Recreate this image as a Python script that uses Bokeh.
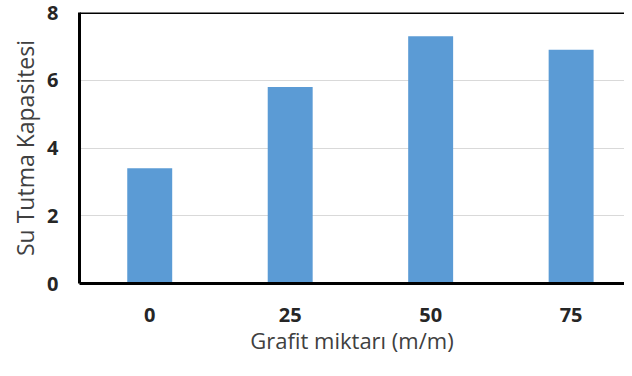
from bokeh.plotting import figure
from bokeh.models import Range1d, FixedTicker, Span
from bokeh.embed import file_html
from bokeh.resources import INLINE

categories = ["0", "25", "50", "75"]
values = [3.4, 5.8, 7.3, 6.9]
y_ticks = [0, 2, 4, 6, 8]
x_title = "Grafit miktarı (m/m)"
y_title = "Su Tutma Kapasitesi"

xs = [i + 0.5 for i in range(len(categories))]

p = figure(width=624, height=360, output_backend="svg", toolbar_location=None,
           x_range=Range1d(0, 3.88), y_range=Range1d(0, 8),
           min_border_left=79, min_border_right=0, min_border_top=12, min_border_bottom=77)
p.outline_line_color = None
p.background_fill_color = "white"
p.border_fill_color = "white"

p.vbar(x=xs, top=values, width=0.32, bottom=0, fill_color="#5B9BD5", line_color=None)

font = "Open Sans"
p.xaxis.ticker = FixedTicker(ticks=xs)
p.xaxis.major_label_overrides = {x: c for x, c in zip(xs, categories)}
p.yaxis.ticker = FixedTicker(ticks=y_ticks)
for ax in (p.xaxis, p.yaxis):
    ax.axis_line_width = 3
    ax.axis_line_color = "black"
    ax.major_tick_out = 0
    ax.major_tick_in = 0
    ax.minor_tick_out = 0
    ax.minor_tick_in = 0
    ax.major_label_text_font = font
    ax.major_label_text_font_style = "bold"
    ax.major_label_text_font_size = "20px"
    ax.major_label_text_color = "#262626"
    ax.axis_label_text_font = font
    ax.axis_label_text_font_style = "normal"
    ax.axis_label_text_color = "#404040"

p.yaxis.axis_label = y_title
p.yaxis.axis_label_text_font_size = "23px"
p.xaxis.axis_label = x_title
p.xaxis.axis_label_text_font_size = "22px"
p.xaxis.major_label_standoff = 24
p.xaxis.axis_label_standoff = 0
p.yaxis.major_label_standoff = 21
p.yaxis.axis_label_standoff = 3

p.add_layout(Span(location=8, dimension="width", line_color="black", line_width=3))

p.xgrid.grid_line_color = None
p.ygrid.ticker = FixedTicker(ticks=y_ticks)
p.ygrid.grid_line_color = "#d9d9d9"
p.ygrid.grid_line_width = 1

open("out.html", "w").write(file_html(p, INLINE))
